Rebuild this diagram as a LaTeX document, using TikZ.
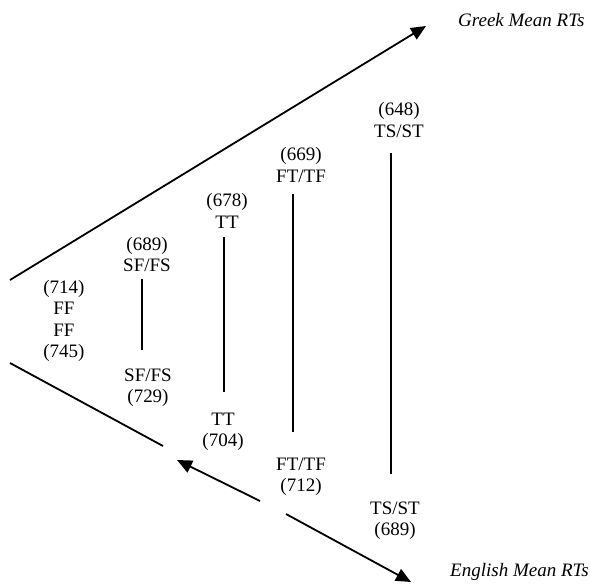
\documentclass[tikz,border=0pt]{standalone}
\usepackage{fontspec}
\setmainfont{Liberation Serif}
\usetikzlibrary{arrows.meta}

\begin{document}
\begin{tikzpicture}[
  x=1pt, y=-1pt,
  font=\fontsize{19}{21.3}\selectfont,
  lbl/.style={align=center, inner sep=1pt},
  axis/.style={italic, anchor=west, inner sep=0pt},
  italic/.style={font=\fontsize{19}{21.3}\selectfont\itshape},
  ray/.style={line width=1.8pt},
  arr/.style={ray, -{Triangle[length=15pt, width=13pt]}},
  pair/.style={line width=1.2pt}
]
\useasboundingbox (0,0) rectangle (590,584);

\node[lbl] (ff)     at (64, 321)   {(714)\\ FF\\ FF\\ (745)};
\node[lbl] (sftop)  at (147, 254.5) {(689)\\ SF/FS};
\node[lbl] (sfbot)  at (148, 388)  {SF/FS\\ (729)};
\node[lbl] (tttop)  at (227, 211)  {(678)\\ TT};
\node[lbl] (ttbot)  at (223, 432)  {TT\\ (704)};
\node[lbl] (fttop)  at (301, 165)  {(669)\\ FT/TF};
\node[lbl] (ftbot)  at (301, 476.5) {FT/TF\\ (712)};
\node[lbl] (tstop)  at (399, 120)  {(648)\\ TS/ST};
\node[lbl] (tsbot)  at (395, 520.5) {TS/ST\\ (689)};
\node[axis] (greek)   at (458, 20)  {Greek Mean RTs};
\node[axis] (english) at (450, 572) {English Mean RTs};

\coordinate (g0) at (10, 280);
\coordinate (g1) at (426, 26);
\coordinate (e0) at (10, 363);
\coordinate (e1) at (163, 446);
\coordinate (e2) at (260, 501);
\coordinate (e3) at (177, 460);
\coordinate (e4) at (286, 514);
\coordinate (e5) at (411, 582);

\draw[arr] (g0) -- (g1);
\draw[ray] (e0) -- (e1);
\draw[arr] (e2) -- (e3);
\draw[arr] (e4) -- (e5);

\coordinate (sf1) at (142, 279); \coordinate (sf2) at (142, 350);
\coordinate (tt1) at (224, 237); \coordinate (tt2) at (224, 392);
\coordinate (ft1) at (293, 194); \coordinate (ft2) at (293, 432);
\coordinate (ts1) at (391, 153); \coordinate (ts2) at (391, 474);
\draw[pair] (sf1) -- (sf2);
\draw[pair] (tt1) -- (tt2);
\draw[pair] (ft1) -- (ft2);
\draw[pair] (ts1) -- (ts2);
\end{tikzpicture}
\end{document}
